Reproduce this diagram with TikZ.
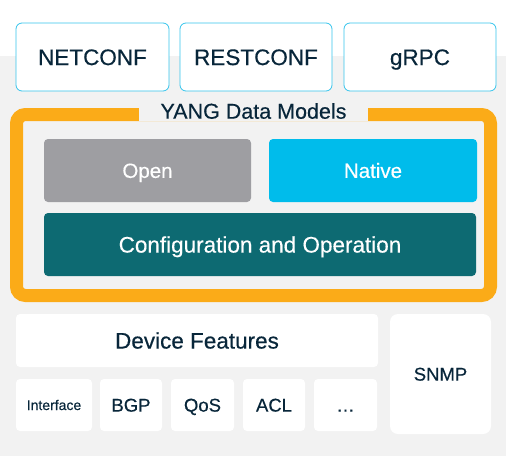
\documentclass[tikz,border=0pt]{standalone}
\usepackage{fontspec}
\setmainfont[FakeBold=0.35,AutoFakeBold=0.35]{Liberation Sans}
\definecolor{bggray}{HTML}{F2F2F2}
\definecolor{yangorange}{HTML}{FBAB18}
\definecolor{opengray}{HTML}{9E9EA2}
\definecolor{nativecyan}{HTML}{00BCEB}
\definecolor{protoline}{HTML}{35C4EC}
\definecolor{configteal}{HTML}{0D6A72}
\definecolor{inktext}{HTML}{08263A}

\begin{document}
\begin{tikzpicture}[x=1pt, y=-1pt, every node/.style={outer sep=0pt, inner sep=0pt, rounded corners=4pt, text=inktext, text depth=0pt},
bigtext/.style={font=\fontsize{22.5}{26}\selectfont\bfseries, text height=16.1pt},
midtext/.style={font=\fontsize{20.5}{24}\selectfont\bfseries, text height=14.7pt},
smalltext/.style={font=\fontsize{18.5}{22}\selectfont\bfseries, text height=13.2pt},
proto/.style={draw=protoline, fill=white, line width=0.8pt, rounded corners=6pt, minimum height=68pt, bigtext},
model/.style={minimum height=63pt, text=white, midtext},
feature/.style={fill=white, minimum height=52pt, smalltext}]
\useasboundingbox (0,0) rectangle (531,456);
\fill[bggray] (0,56) rectangle (506,456);

\node[proto, minimum width=153pt] (netconf) at (92.5,57) {NETCONF};
\node[proto, minimum width=152pt] (restconf) at (256,57) {RESTCONF};
\node[proto, minimum width=152pt] (grpc) at (420,57) {gRPC};

\draw[yangorange, line width=13pt, rounded corners=9pt] (16.5,114.5) rectangle (490.5,295.5);
\node[fill=bggray, rounded corners=0pt, minimum width=229pt, minimum height=20pt, font=\fontsize{21.5}{26}\selectfont\bfseries, text height=15.4pt] (yang) at (253.5,111) {YANG Data Models};

\node[model, fill=opengray, minimum width=207pt] (open) at (147.5,170.5) {Open};
\node[model, fill=nativecyan, minimum width=208pt] (native) at (373,170.5) {Native};
\node[model, fill=configteal, minimum width=432pt, bigtext] (config) at (260,244.5) {Configuration and Operation};

\node[feature, minimum width=362pt, minimum height=53pt, bigtext] (device) at (197,340.5) {Device Features};
\node[feature, minimum width=101pt, minimum height=120pt, rounded corners=8pt] (snmp) at (440.5,374) {SNMP};
\node[feature, minimum width=76pt, font=\fontsize{14}{17}\selectfont\bfseries, text height=10pt] (iface) at (54,405) {Interface};
\node[feature, minimum width=62pt] (bgp) at (131,405) {BGP};
\node[feature, minimum width=63pt] (qos) at (202.5,405) {QoS};
\node[feature, minimum width=62pt] (acl) at (274,405) {ACL};
\node[feature, minimum width=63pt] (more) at (345.5,405) {\dots};
\end{tikzpicture}
\end{document}
